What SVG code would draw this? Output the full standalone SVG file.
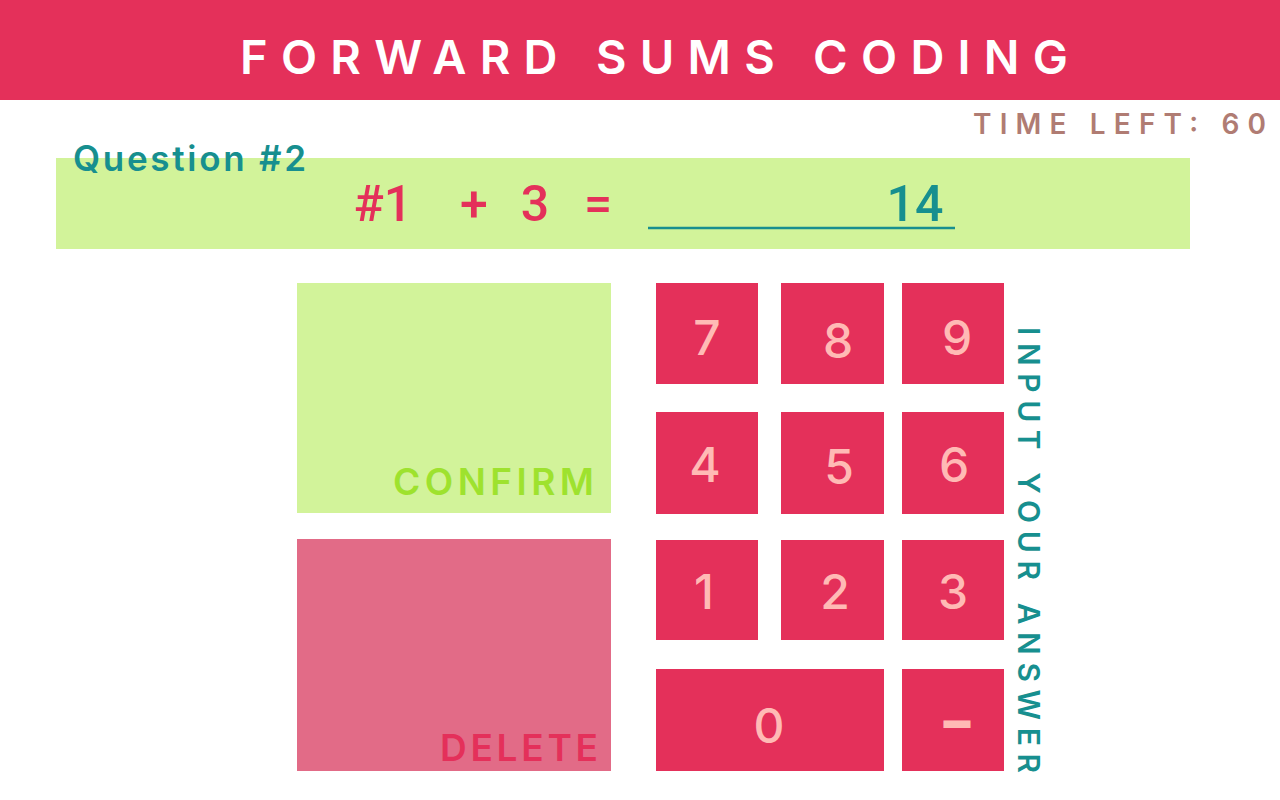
<svg xmlns="http://www.w3.org/2000/svg" width="1280" height="800" viewBox="0 0 1280 800">
  <style>
    .ui { font-family: Inter, "Noto Sans", "Liberation Sans", sans-serif; }
    .key { fill: #E4305A; }
    .digit { font-family: Inter, "Noto Sans", "Liberation Sans", sans-serif; font-size: 48px; font-weight: 500; fill: #FFBAB5; text-anchor: middle; }
    .eq { font-family: Roboto, "Liberation Sans", sans-serif; font-size: 50px; font-weight: 500; text-anchor: middle; }
  </style>
  <rect width="1280" height="800" fill="#FFFFFF"/>

  <g id="header">
    <rect x="0" y="0" width="1280" height="100" fill="#E4305A"/>
    <text class="ui" x="240" y="74" font-size="47" font-weight="600" fill="#FFFFFF" textLength="828" lengthAdjust="spacing">FORWARD SUMS CODING</text>
  </g>

  <g id="timer">
    <text class="ui" x="973" y="134" font-size="28" font-weight="600" fill="#B07C73" textLength="293" lengthAdjust="spacing">TIME LEFT: 60</text>
  </g>

  <g id="question">
    <rect x="56" y="158" width="1134" height="91" fill="#D2F39A"/>
    <text class="ui" x="73" y="171" font-size="35" font-weight="600" fill="#178F8F" textLength="233" lengthAdjust="spacing">Question #2</text>
    <text class="eq" y="221" fill="#E4305A"><tspan x="383">#1</tspan><tspan x="474">+</tspan><tspan x="535">3</tspan><tspan x="598">=</tspan></text>
    <line x1="648" y1="228" x2="955" y2="228" stroke="#178F8F" stroke-width="2.5"/>
    <text class="eq" x="915" y="221" fill="#178F8F">14</text>
  </g>

  <g id="confirm">
    <rect x="297" y="283" width="314" height="230" fill="#D2F39A"/>
    <text class="ui" x="393" y="495" font-size="37" font-weight="600" fill="#9EE22E" textLength="201" lengthAdjust="spacing">CONFIRM</text>
  </g>

  <g id="delete">
    <rect x="297" y="539" width="314" height="232" fill="#E26B87"/>
    <text class="ui" x="440" y="761" font-size="37" font-weight="600" fill="#E4305A" textLength="158" lengthAdjust="spacing">DELETE</text>
  </g>

  <g id="key-7"><rect class="key" x="656" y="283" width="102" height="101"/><text class="digit" x="707" y="355">7</text></g>
  <g id="key-8"><rect class="key" x="781" y="283" width="103" height="101"/><text class="digit" x="838" y="358">8</text></g>
  <g id="key-9"><rect class="key" x="902" y="283" width="102" height="101"/><text class="digit" x="957" y="355">9</text></g>
  <g id="key-4"><rect class="key" x="656" y="412" width="102" height="102"/><text class="digit" x="705" y="482">4</text></g>
  <g id="key-5"><rect class="key" x="781" y="412" width="103" height="102"/><text class="digit" x="839" y="484">5</text></g>
  <g id="key-6"><rect class="key" x="902" y="412" width="102" height="102"/><text class="digit" x="954" y="482">6</text></g>
  <g id="key-1"><rect class="key" x="656" y="540" width="102" height="100"/><text class="digit" x="704" y="609">1</text></g>
  <g id="key-2"><rect class="key" x="781" y="540" width="103" height="100"/><text class="digit" x="835" y="609">2</text></g>
  <g id="key-3"><rect class="key" x="902" y="540" width="102" height="100"/><text class="digit" x="953" y="609">3</text></g>
  <g id="key-0"><rect class="key" x="656" y="669" width="228" height="102"/><text class="digit" x="769" y="743">0</text></g>
  <g id="key-minus"><rect class="key" x="902" y="669" width="102" height="102"/><text class="digit" x="957" y="739" font-size="66" font-weight="700" stroke="#FFBAB5" stroke-width="3">–</text></g>

  <g id="connectors"></g>

  <g id="side-label">
    <text class="ui" transform="translate(1018,327) rotate(90)" x="0" y="0" font-size="30" font-weight="600" fill="#178F8F" textLength="446" lengthAdjust="spacing">INPUT YOUR ANSWER</text>
  </g>
</svg>
